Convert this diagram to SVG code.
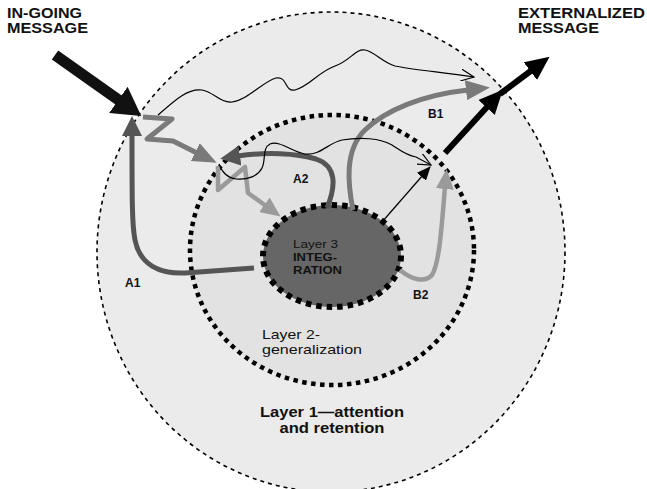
<svg xmlns="http://www.w3.org/2000/svg" width="647" height="489" viewBox="0 0 647 489">
<style>
  text { font-family: "Liberation Sans", Arial, sans-serif; fill: #111; }
  .big { font-size: 14px; font-weight: bold; }
  .lbl { font-size: 12px; font-weight: bold; }
  .l3 { font-size: 11px; font-weight: bold; fill: #111; }
  .l2 { font-size: 13px; }
  .thin { fill: none; stroke: #000; stroke-width: 1.2; }
  .g1 { fill: none; stroke: #555; stroke-width: 5; }
  .g2 { fill: none; stroke: #7a7a7a; stroke-width: 5; }
  .g3 { fill: none; stroke: #9a9a9a; stroke-width: 4.5; }
</style>
<defs>
  <marker id="hBlackBig" markerUnits="userSpaceOnUse" viewBox="0 0 28 32" markerWidth="28" markerHeight="32" refX="2" refY="16" orient="auto">
    <path d="M0,0 L28,16 L0,32 z" fill="#111"/>
  </marker>
  <marker id="hBlack" markerUnits="userSpaceOnUse" viewBox="0 0 24 22" markerWidth="24" markerHeight="22" refX="2" refY="11" orient="auto">
    <path d="M0,0 L24,11 L0,22 z" fill="#000"/>
  </marker>
  <marker id="hDark" markerUnits="userSpaceOnUse" viewBox="0 0 20 20" markerWidth="20" markerHeight="20" refX="2" refY="10" orient="auto">
    <path d="M0,0 L20,10 L0,20 z" fill="#555"/>
  </marker>
  <marker id="hMid" markerUnits="userSpaceOnUse" viewBox="0 0 24 20" markerWidth="24" markerHeight="20" refX="2" refY="10" orient="auto">
    <path d="M0,0 L24,10 L0,20 z" fill="#7a7a7a"/>
  </marker>
  <marker id="hLight" markerUnits="userSpaceOnUse" viewBox="0 0 20 18" markerWidth="20" markerHeight="18" refX="2" refY="9" orient="auto">
    <path d="M0,0 L20,9 L0,18 z" fill="#9a9a9a"/>
  </marker>
  <marker id="hOpen" markerUnits="userSpaceOnUse" viewBox="0 0 14 12" markerWidth="14" markerHeight="12" refX="13" refY="6" orient="auto">
    <path d="M0,0 L13,6 L0,12" fill="none" stroke="#000" stroke-width="1.2"/>
  </marker>
  <marker id="hThin" markerUnits="userSpaceOnUse" viewBox="0 0 14 12" markerWidth="14" markerHeight="12" refX="13" refY="6" orient="auto">
    <path d="M0,0 L14,6 L0,12 z" fill="#000"/>
  </marker>
</defs>

<g id="layer1">
  <ellipse cx="331" cy="252" rx="234" ry="240" fill="#ebebeb" stroke="#000" stroke-width="1.6" stroke-dasharray="4 4"/>
  <text class="big" x="332" y="417" text-anchor="middle" textLength="144" lengthAdjust="spacingAndGlyphs">Layer 1—attention</text>
  <text class="big" x="332" y="433" text-anchor="middle" textLength="105" lengthAdjust="spacingAndGlyphs">and retention</text>
</g>

<g id="layer2">
  <ellipse cx="332" cy="250" rx="142" ry="135" fill="#e2e2e2" stroke="#000" stroke-width="4.5" stroke-dasharray="4.5 4.5"/>
  <text class="l2" x="262" y="339" textLength="58" lengthAdjust="spacingAndGlyphs">Layer 2-</text>
  <text class="l2" x="262" y="354" textLength="100" lengthAdjust="spacingAndGlyphs">generalization</text>
</g>

<g id="layer3">
  <ellipse cx="332" cy="256" rx="69" ry="51" fill="#666" stroke="#000" stroke-width="6" stroke-dasharray="5.5 5"/>
  <text class="l3" x="293" y="248" style="font-weight:normal" textLength="45" lengthAdjust="spacingAndGlyphs">Layer 3</text>
  <text class="l3" x="293" y="261" textLength="44" lengthAdjust="spacingAndGlyphs">INTEG-</text>
  <text class="l3" x="293" y="274" textLength="49" lengthAdjust="spacingAndGlyphs">RATION</text>
</g>

<g id="ingoing">
  <text class="big" x="7" y="18" textLength="75" lengthAdjust="spacingAndGlyphs">IN-GOING</text>
  <text class="big" x="7" y="33" textLength="81" lengthAdjust="spacingAndGlyphs">MESSAGE</text>
</g>

<g id="externalized">
  <text class="big" x="518" y="18" textLength="127" lengthAdjust="spacingAndGlyphs">EXTERNALIZED</text>
  <text class="big" x="518" y="33" textLength="81" lengthAdjust="spacingAndGlyphs">MESSAGE</text>
</g>

<g id="labels">
  <text class="lbl" x="125" y="287">A1</text>
  <text class="lbl" x="293" y="183">A2</text>
  <text class="lbl" x="428" y="118">B1</text>
  <text class="lbl" x="413" y="299">B2</text>
</g>

<g id="connectors">
  <!-- in-going big arrow -->
  <path d="M55,55 L120,101" stroke="#111" stroke-width="11" fill="none" marker-end="url(#hBlackBig)"/>
  <!-- externalized arrow (double head) -->
  <path d="M445,153 L488,106" stroke="#000" stroke-width="6" fill="none" marker-end="url(#hBlack)"/>
  <path d="M500,94 L532,70" stroke="#000" stroke-width="6" fill="none" marker-end="url(#hBlack)"/>

  <!-- A1 -->
  <path class="g1" d="M254,268 L185,273 C160,274 140,265 135,240 C132,225 132,200 132,134" marker-end="url(#hDark)"/>
  <!-- zigzag from entry into layer 2 -->
  <path class="g2" stroke-linejoin="round" d="M143,117 L172,119 L147,139 L173,141 L197,153" marker-end="url(#hMid)"/>
  <!-- A2 -->
  <path class="g1" d="M327,208 C336,186 337,166 316,159 C296,153 265,152 238,156" marker-end="url(#hDark)"/>
  <!-- zigzag into layer 3 -->
  <path class="g3" stroke-linejoin="round" d="M218,166 L218,190 L245,167 L248,193 L266,206" marker-end="url(#hLight)"/>
  <!-- B1 -->
  <path class="g2" d="M353,210 C348,185 344,150 365,130 C386,110 422,95 468,90" marker-end="url(#hMid)"/>
  <!-- B2 -->
  <path class="g3" d="M400,270 C412,280 425,283 432,275 C440,262 442,220 445,187" marker-end="url(#hLight)"/>

  <!-- thin wavy outer -->
  <path class="thin" d="M158,115 C175,100 188,88 202,90 C214,92 220,103 232,102 C248,100 262,82 276,78 C288,76 284,92 295,90 C310,86 318,72 335,66 C350,61 356,48 365,50 C375,52 382,62 395,66 C415,70 440,72 474,77" marker-end="url(#hOpen)"/>
  <!-- thin wavy inner -->
  <path class="thin" d="M219,164 C222,172 227,178 236,179 C248,180 258,176 262,168 C266,160 262,148 270,144 C280,140 292,152 305,154 C320,156 328,143 342,140 C360,137 380,138 392,145 C400,150 405,155 416,157 L431,165" marker-end="url(#hOpen)"/>
  <!-- thin straight arrow -->
  <path class="thin" d="M382,222 L430,167" marker-end="url(#hThin)"/>
</g>
</svg>
